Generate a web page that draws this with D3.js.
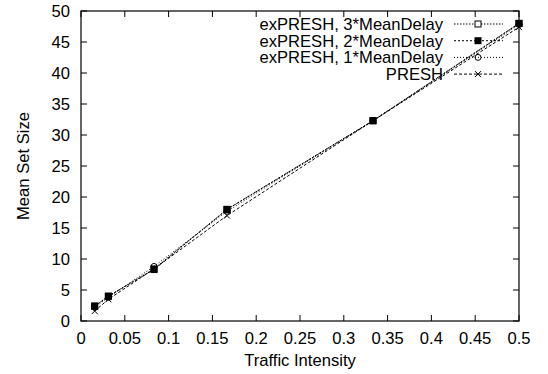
<!DOCTYPE html>
<html>
<head>
<meta charset="utf-8">
<script src="https://cdn.jsdelivr.net/npm/d3@7"></script>
<style>
  body { margin: 0; background: #fff; }
  text { font-family: "Liberation Sans", Arial, sans-serif; fill: #000; }
</style>
</head>
<body>
<div id="chart"></div>
<script>
var traffic = [1/64, 1/32, 1/12, 1/6, 1/3, 1/2];
var ex3 = [2.4, 4.0, 8.4, 18.0, 32.3, 48.0];
var ex2 = [2.4, 4.0, 8.3, 18.0, 32.3, 48.0];
var ex1 = [2.2, 3.8, 8.8, 17.7, 32.3, 47.8];
var presh = [1.6, 3.5, 8.4, 17.0, 32.3, 47.4];
var xTicks = [0, 0.05, 0.1, 0.15, 0.2, 0.25, 0.3, 0.35, 0.4, 0.45, 0.5];
var yTicks = [0, 5, 10, 15, 20, 25, 30, 35, 40, 45, 50];

var series = [
  {name: "exPRESH, 3*MeanDelay", values: ex3, dash: "1.5,1.5", marker: "openSquare"},
  {name: "exPRESH, 2*MeanDelay", values: ex2, dash: "2,2", marker: "square"},
  {name: "exPRESH, 1*MeanDelay", values: ex1, dash: "1,2", marker: "circle"},
  {name: "PRESH", values: presh, dash: "3,2", marker: "cross"}
];

var width = 548, height = 374;
var margin = {top: 11, right: 29, bottom: 53, left: 81};

var svg = d3.select("#chart").append("svg")
    .attr("width", width)
    .attr("height", height);

var x = d3.scaleLinear().domain([0, 0.5]).range([margin.left, width - margin.right]);
var y = d3.scaleLinear().domain([0, 50]).range([height - margin.bottom, margin.top]);

var tickLen = 6;
var fontSize = 16.6;

// frame
svg.append("rect")
    .attr("x", x(0)).attr("y", y(50))
    .attr("width", x(0.5) - x(0)).attr("height", y(0) - y(50))
    .attr("fill", "none").attr("stroke", "#000").attr("stroke-width", 1.2);

// inward ticks on all sides
var tg = svg.append("g").attr("stroke", "#000").attr("stroke-width", 1);
xTicks.forEach(function(t) {
  tg.append("line").attr("x1", x(t)).attr("x2", x(t)).attr("y1", y(0)).attr("y2", y(0) - tickLen);
  tg.append("line").attr("x1", x(t)).attr("x2", x(t)).attr("y1", y(50)).attr("y2", y(50) + tickLen);
});
yTicks.forEach(function(t) {
  tg.append("line").attr("x1", x(0)).attr("x2", x(0) + tickLen).attr("y1", y(t)).attr("y2", y(t));
  tg.append("line").attr("x1", x(0.5)).attr("x2", x(0.5) - tickLen).attr("y1", y(t)).attr("y2", y(t));
});

svg.selectAll(".xlab").data(xTicks).enter().append("text")
    .attr("x", function(d) { return x(d); })
    .attr("y", y(0) + 22.5)
    .attr("text-anchor", "middle")
    .style("font-size", fontSize + "px")
    .text(function(d) { return d3.format("")(d); });

svg.selectAll(".ylab").data(yTicks).enter().append("text")
    .attr("x", x(0) - 11)
    .attr("y", function(d) { return y(d) + 6; })
    .attr("text-anchor", "end")
    .style("font-size", fontSize + "px")
    .text(function(d) { return d; });

svg.append("text")
    .attr("x", (x(0) + x(0.5)) / 2)
    .attr("y", 366)
    .attr("text-anchor", "middle")
    .style("font-size", fontSize + "px")
    .text("Traffic Intensity");

svg.append("text")
    .attr("transform", "translate(28.5," + ((y(0) + y(50)) / 2) + ") rotate(-90)")
    .attr("text-anchor", "middle")
    .style("font-size", fontSize + "px")
    .text("Mean Set Size");

var line = d3.line()
    .x(function(d, i) { return x(traffic[i]); })
    .y(function(d) { return y(d); });

function drawMarker(g, type, cx, cy) {
  var s = 3;
  if (type === "openSquare") {
    g.append("rect").attr("x", cx - s).attr("y", cy - s).attr("width", 2 * s).attr("height", 2 * s)
      .attr("fill", "#fff").attr("stroke", "#000").attr("stroke-width", 1);
  } else if (type === "square") {
    g.append("rect").attr("x", cx - s - 0.5).attr("y", cy - s - 0.5).attr("width", 2 * s + 1).attr("height", 2 * s + 1)
      .attr("fill", "#000");
  } else if (type === "circle") {
    g.append("circle").attr("cx", cx).attr("cy", cy).attr("r", s)
      .attr("fill", "none").attr("stroke", "#000").attr("stroke-width", 1);
  } else {
    g.append("path").attr("d", "M" + (cx - s) + "," + (cy - s) + "L" + (cx + s) + "," + (cy + s) +
        "M" + (cx - s) + "," + (cy + s) + "L" + (cx + s) + "," + (cy - s))
      .attr("stroke", "#000").attr("stroke-width", 1);
  }
}

series.forEach(function(s) {
  svg.append("path")
      .attr("d", line(s.values))
      .attr("fill", "none")
      .attr("stroke", "#000")
      .attr("stroke-width", 1)
      .attr("stroke-dasharray", s.dash);
});
series.forEach(function(s) {
  var g = svg.append("g");
  s.values.forEach(function(v, i) { drawMarker(g, s.marker, x(traffic[i]), y(v)); });
});

// legend
var legX = 443, legY = 24, legStep = 16.7;
series.forEach(function(s, i) {
  var ly = legY + i * legStep;
  svg.append("text")
      .attr("x", legX)
      .attr("y", ly + 6)
      .attr("text-anchor", "end")
      .style("font-size", fontSize + "px")
      .text(s.name);
  svg.append("line")
      .attr("x1", 454).attr("x2", 503)
      .attr("y1", ly).attr("y2", ly)
      .attr("stroke", "#000").attr("stroke-width", 1)
      .attr("stroke-dasharray", s.dash);
  drawMarker(svg.append("g"), s.marker, 478, ly);
});
</script>
</body>
</html>
